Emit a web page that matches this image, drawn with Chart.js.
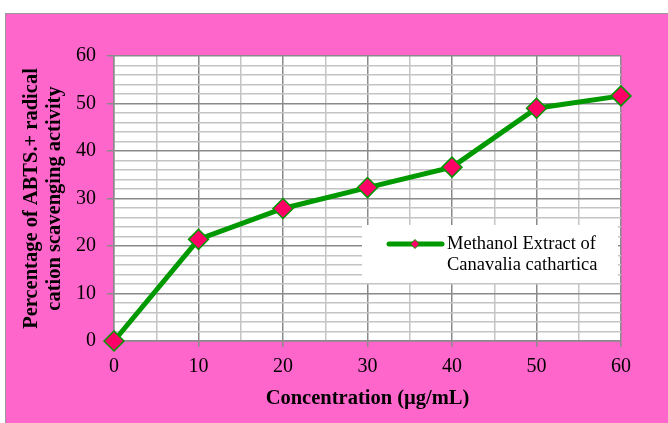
<!DOCTYPE html>
<html>
<head>
<meta charset="utf-8">
<script src="https://cdn.jsdelivr.net/npm/chart.js@4"></script>
<style>
  html, body { margin: 0; padding: 0; background: #fff; }
  canvas { display: block; }
</style>
</head>
<body>
<canvas id="chart" width="668" height="423"></canvas>
<script>
  'use strict';

  // values
  const concentrations = [0, 10, 20, 30, 40, 50, 60];
  const activity = [0, 21.4, 27.9, 32.3, 36.6, 49.0, 51.6];
  const seriesLabel = ['Methanol Extract of', 'Canavalia cathartica'];
  const xTitle = 'Concentration (µg/mL)';
  const yTitle = ['Percentage of ABTS.+ radical', 'cation scavenging activity'];

  const SERIF = "'Liberation Serif', 'Times New Roman', serif";
  const PINK = '#ff66cc';
  const GREEN = '#009900';
  const MARKER = '#ff0066';

  const isMajor = (v) => v % 10 === 0;

  const frame = {
    id: 'frame',
    beforeDraw(chart) {
      const { ctx, chartArea: a } = chart;
      ctx.save();
      ctx.fillStyle = '#fff';
      ctx.fillRect(0, 0, chart.width, chart.height);
      ctx.fillStyle = PINK;
      ctx.fillRect(5, 13, chart.width, chart.height);
      ctx.strokeStyle = '#999';
      ctx.lineWidth = 1;
      ctx.strokeRect(5.5, 13.5, chart.width + 10, chart.height + 10);
      ctx.fillStyle = '#fff';
      ctx.fillRect(a.left, a.top, a.right - a.left, a.bottom - a.top);
      ctx.restore();
    },
    afterDraw(chart) {
      const { ctx, chartArea: a } = chart;
      ctx.save();
      // axis titles
      ctx.fillStyle = '#000';
      ctx.font = 'bold 20.5px ' + SERIF;
      ctx.textAlign = 'center';
      ctx.textBaseline = 'middle';
      ctx.fillText(xTitle, (a.left + a.right) / 2, 399);
      ctx.translate(0, (a.top + a.bottom) / 2);
      ctx.rotate(-Math.PI / 2);
      ctx.fillText(yTitle[0], 0, 32);
      ctx.fillText(yTitle[1], 0, 55);
      ctx.restore();

      // legend box inside the plot
      ctx.save();
      const bx = 362, by = 225, bw = 256, bh = 58;
      ctx.fillStyle = '#fff';
      ctx.fillRect(bx, by, bw, bh);
      const ly = 244;
      ctx.strokeStyle = GREEN;
      ctx.lineWidth = 5;
      ctx.lineCap = 'round';
      ctx.beginPath();
      ctx.moveTo(389, ly);
      ctx.lineTo(442, ly);
      ctx.stroke();
      ctx.beginPath();
      ctx.moveTo(415, ly - 4.5);
      ctx.lineTo(419.5, ly);
      ctx.lineTo(415, ly + 4.5);
      ctx.lineTo(410.5, ly);
      ctx.closePath();
      ctx.fillStyle = MARKER;
      ctx.fill();
      ctx.lineWidth = 1;
      ctx.lineCap = 'butt';
      ctx.stroke();
      ctx.fillStyle = '#000';
      ctx.font = '18.5px ' + SERIF;
      ctx.textAlign = 'left';
      ctx.textBaseline = 'middle';
      ctx.fillText(seriesLabel[0], 447, ly);
      ctx.fillText(seriesLabel[1], 447, ly + 21);
      ctx.restore();
    }
  };

  new Chart(document.getElementById('chart'), {
    type: 'line',
    data: {
      datasets: [{
        label: seriesLabel.join(' '),
        data: concentrations.map((c, i) => ({ x: c, y: activity[i] })),
        borderColor: GREEN,
        borderWidth: 5,
        pointStyle: 'rectRot',
        pointRadius: 10,
        pointBackgroundColor: MARKER,
        pointBorderColor: GREEN,
        pointBorderWidth: 1.5,
        tension: 0,
        clip: false,
      }],
    },
    options: {
      responsive: false,
      animation: false,
      layout: { padding: { top: 56, right: 47, left: 0, bottom: 0 } },
      plugins: { legend: { display: false }, tooltip: { enabled: false } },
      scales: {
        x: {
          type: 'linear', min: 0, max: 60,
          afterFit: (s) => { s.height = 82; },
          ticks: {
            stepSize: 5, autoSkip: false, maxRotation: 0, padding: 8,
            color: '#000', font: { family: SERIF, size: 20 },
            callback: (v) => (isMajor(v) ? v : ''),
          },
          grid: {
            color: (c) => (isMajor(c.tick.value) ? '#8a8a8a' : '#c4c4c4'),
            lineWidth: 1.5,
            tickColor: (c) => (isMajor(c.tick.value) ? '#8a8a8a' : 'rgba(0,0,0,0)'),
            tickLength: 6,
          },
          border: { color: '#8a8a8a', width: 1.5 },
        },
        y: {
          min: 0, max: 60,
          afterFit: (s) => { s.width = 114; },
          ticks: {
            stepSize: 2, autoSkip: false, padding: 11,
            color: '#000', font: { family: SERIF, size: 20 },
            callback: (v) => (isMajor(v) ? v : ''),
          },
          grid: {
            color: (c) => (isMajor(c.tick.value) ? '#8a8a8a' : '#c4c4c4'),
            lineWidth: 1.5,
            tickColor: (c) => (isMajor(c.tick.value) ? '#8a8a8a' : 'rgba(0,0,0,0)'),
            tickLength: 7,
          },
          border: { color: '#8a8a8a', width: 1.5 },
        },
      },
    },
    plugins: [frame],
  });
</script>
</body>
</html>
